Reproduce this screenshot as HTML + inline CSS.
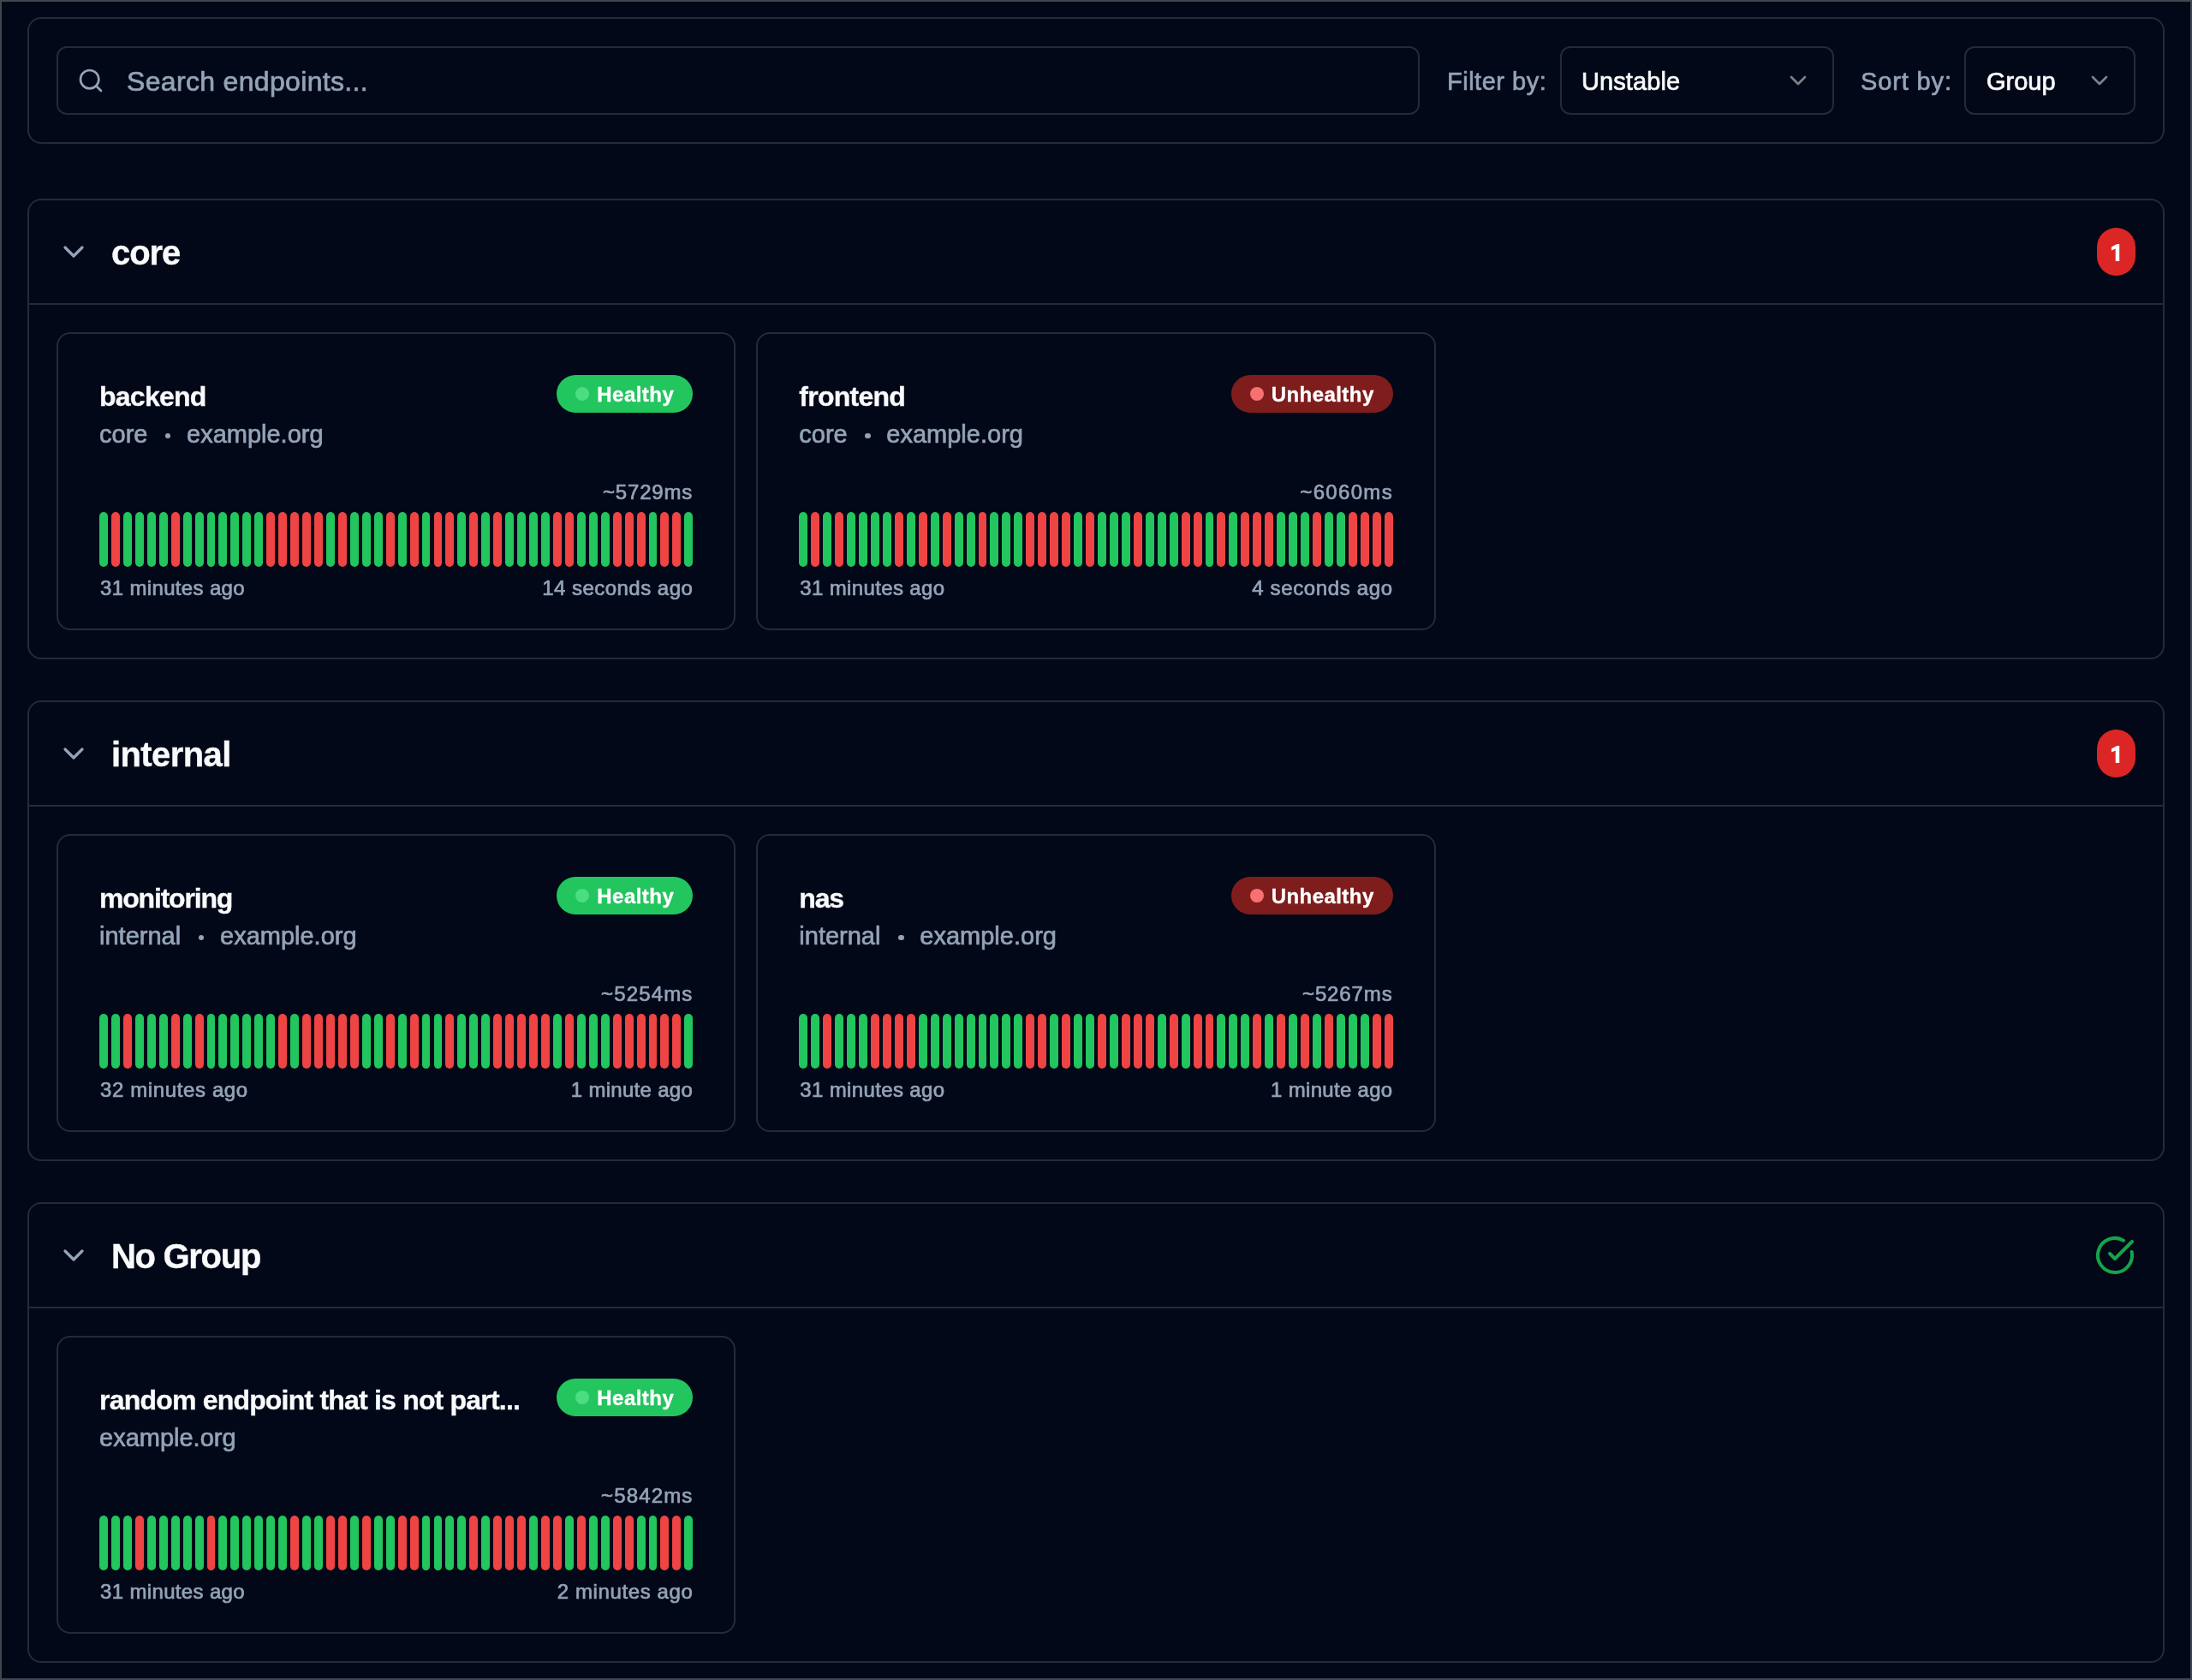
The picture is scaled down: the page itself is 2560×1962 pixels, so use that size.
<!DOCTYPE html>
<html><head><meta charset="utf-8"><title>Endpoints</title>
<style>
html,body{margin:0;padding:0;}
body{will-change:transform;width:2560px;height:1962px;position:relative;overflow:hidden;background:#020817;font-family:"Liberation Sans",sans-serif;}
.frame{position:absolute;left:0;top:0;width:2556px;height:1958px;border:2px solid #43464e;}
.t{position:absolute;white-space:nowrap;-webkit-text-stroke:0.7px currentColor;}
.tb{-webkit-text-stroke:0.35px currentColor;}
.b{position:absolute;box-sizing:border-box;}
.i{position:absolute;display:block;}
</style></head><body>
<div class="frame"></div>
<div class="b" style="left:32px;top:20px;width:2496px;height:148px;border-radius:16px;border:2px solid #242a3d;"></div>
<div class="b" style="left:66px;top:54px;width:1592px;height:80px;border-radius:12px;border:2px solid #242a3d;"></div>
<svg class="i" style="left:90px;top:78px" width="32" height="32" viewBox="0 0 24 24" fill="none" stroke="#94a3b8" stroke-width="2" stroke-linecap="round" stroke-linejoin="round"><circle cx="11" cy="11" r="8"/><path d="m21 21-4.34-4.34"/></svg>
<div class="t" style="left:148px;top:79px;font-size:32px;line-height:32px;font-weight:400;color:#94a3b8;letter-spacing:0.33px;">Search endpoints...</div>
<div class="t" style="left:1690px;top:81px;font-size:29px;line-height:29px;font-weight:400;color:#94a3b8;letter-spacing:0.5px;">Filter by:</div>
<div class="b" style="left:1822px;top:54px;width:320px;height:80px;border-radius:12px;border:2px solid #242a3d;"></div>
<div class="t" style="left:1847px;top:81px;font-size:29px;line-height:29px;font-weight:400;color:#f8fafc;letter-spacing:0.1px;">Unstable</div>
<svg class="i" style="left:2084px;top:78px" width="32" height="32" viewBox="0 0 24 24" fill="none" stroke="#7d818a" stroke-width="2" stroke-linecap="round" stroke-linejoin="round"><path d="m6 9 6 6 6-6"/></svg>
<div class="t" style="left:2173px;top:81px;font-size:29px;line-height:29px;font-weight:400;color:#94a3b8;letter-spacing:0.87px;">Sort by:</div>
<div class="b" style="left:2294px;top:54px;width:200px;height:80px;border-radius:12px;border:2px solid #242a3d;"></div>
<div class="t" style="left:2320px;top:81px;font-size:29px;line-height:29px;font-weight:400;color:#f8fafc;">Group</div>
<svg class="i" style="left:2436px;top:78px" width="32" height="32" viewBox="0 0 24 24" fill="none" stroke="#7d818a" stroke-width="2" stroke-linecap="round" stroke-linejoin="round"><path d="m6 9 6 6 6-6"/></svg>
<div class="b" style="left:32px;top:232px;width:2496px;height:538px;border-radius:16px;border:2px solid #242a3d;"></div>
<div class="b" style="left:34px;top:354px;width:2492px;height:2px;background:#242a3d"></div>
<svg class="i" style="left:66px;top:274px" width="40" height="40" viewBox="0 0 24 24" fill="none" stroke="#94a3b8" stroke-width="2" stroke-linecap="round" stroke-linejoin="round"><path d="m6 9 6 6 6-6"/></svg>
<div class="t tb" style="left:130px;top:275px;font-size:40px;line-height:40px;font-weight:700;color:#f8fafc;letter-spacing:-1.1px;">core</div>
<div class="b" style="left:2449px;top:266px;width:45px;height:56px;border-radius:23px;background:#dc2626"></div>
<svg class="i" style="left:2440px;top:232px" width="60" height="120" viewBox="2440 232 60 120"><polygon fill="#ffffff" points="2465.9,288.6 2472.4,285 2475.2,285 2475.2,305 2470.7,305 2470.7,290.5 2465.9,292.4"/></svg>
<div class="b" style="left:66.0px;top:388px;width:793.33px;height:348px;border-radius:16px;border:2px solid #242a3d;"></div>
<div class="t tb" style="left:116.0px;top:447px;font-size:32px;line-height:32px;font-weight:700;color:#f8fafc;letter-spacing:-0.75px;">backend</div>
<div class="t" style="left:116.0px;top:493px;font-size:29px;line-height:29px;font-weight:400;color:#94a3b8;">core</div>
<div class="b" style="left:192.75px;top:505.75px;width:6.5px;height:6.5px;border-radius:50%;background:#94a3b8"></div>
<div class="t" style="left:218.0px;top:493px;font-size:29px;line-height:29px;font-weight:400;color:#94a3b8;">example.org</div>
<div class="b" style="left:650.33px;top:438px;width:159px;height:44px;border-radius:22px;background:#22c55e"></div>
<div class="b" style="left:672.33px;top:452px;width:16px;height:16px;border-radius:8px;background:#4ade80"></div>
<div class="t tb" style="left:697.33px;top:449px;font-size:24px;line-height:24px;font-weight:700;color:#ffffff;letter-spacing:0.45px;">Healthy</div>
<div class="t" style="right:1750.85px;top:563px;font-size:24px;line-height:24px;font-weight:400;color:#94a3b8;letter-spacing:0.82px;">~5729ms</div>
<div class="b" style="left:116.00px;top:598px;width:9.95px;height:64px;border-radius:5px;background:#22c55e"></div>
<div class="b" style="left:129.95px;top:598px;width:9.95px;height:64px;border-radius:5px;background:#ef4444"></div>
<div class="b" style="left:143.89px;top:598px;width:9.95px;height:64px;border-radius:5px;background:#22c55e"></div>
<div class="b" style="left:157.84px;top:598px;width:9.95px;height:64px;border-radius:5px;background:#22c55e"></div>
<div class="b" style="left:171.79px;top:598px;width:9.95px;height:64px;border-radius:5px;background:#22c55e"></div>
<div class="b" style="left:185.73px;top:598px;width:9.95px;height:64px;border-radius:5px;background:#22c55e"></div>
<div class="b" style="left:199.68px;top:598px;width:9.95px;height:64px;border-radius:5px;background:#ef4444"></div>
<div class="b" style="left:213.63px;top:598px;width:9.95px;height:64px;border-radius:5px;background:#22c55e"></div>
<div class="b" style="left:227.57px;top:598px;width:9.95px;height:64px;border-radius:5px;background:#22c55e"></div>
<div class="b" style="left:241.52px;top:598px;width:9.95px;height:64px;border-radius:5px;background:#22c55e"></div>
<div class="b" style="left:255.47px;top:598px;width:9.95px;height:64px;border-radius:5px;background:#22c55e"></div>
<div class="b" style="left:269.41px;top:598px;width:9.95px;height:64px;border-radius:5px;background:#22c55e"></div>
<div class="b" style="left:283.36px;top:598px;width:9.95px;height:64px;border-radius:5px;background:#22c55e"></div>
<div class="b" style="left:297.31px;top:598px;width:9.95px;height:64px;border-radius:5px;background:#22c55e"></div>
<div class="b" style="left:311.25px;top:598px;width:9.95px;height:64px;border-radius:5px;background:#ef4444"></div>
<div class="b" style="left:325.20px;top:598px;width:9.95px;height:64px;border-radius:5px;background:#ef4444"></div>
<div class="b" style="left:339.15px;top:598px;width:9.95px;height:64px;border-radius:5px;background:#ef4444"></div>
<div class="b" style="left:353.09px;top:598px;width:9.95px;height:64px;border-radius:5px;background:#ef4444"></div>
<div class="b" style="left:367.04px;top:598px;width:9.95px;height:64px;border-radius:5px;background:#ef4444"></div>
<div class="b" style="left:380.99px;top:598px;width:9.95px;height:64px;border-radius:5px;background:#22c55e"></div>
<div class="b" style="left:394.93px;top:598px;width:9.95px;height:64px;border-radius:5px;background:#ef4444"></div>
<div class="b" style="left:408.88px;top:598px;width:9.95px;height:64px;border-radius:5px;background:#22c55e"></div>
<div class="b" style="left:422.83px;top:598px;width:9.95px;height:64px;border-radius:5px;background:#22c55e"></div>
<div class="b" style="left:436.77px;top:598px;width:9.95px;height:64px;border-radius:5px;background:#22c55e"></div>
<div class="b" style="left:450.72px;top:598px;width:9.95px;height:64px;border-radius:5px;background:#ef4444"></div>
<div class="b" style="left:464.67px;top:598px;width:9.95px;height:64px;border-radius:5px;background:#22c55e"></div>
<div class="b" style="left:478.61px;top:598px;width:9.95px;height:64px;border-radius:5px;background:#ef4444"></div>
<div class="b" style="left:492.56px;top:598px;width:9.95px;height:64px;border-radius:5px;background:#22c55e"></div>
<div class="b" style="left:506.50px;top:598px;width:9.95px;height:64px;border-radius:5px;background:#ef4444"></div>
<div class="b" style="left:520.45px;top:598px;width:9.95px;height:64px;border-radius:5px;background:#ef4444"></div>
<div class="b" style="left:534.40px;top:598px;width:9.95px;height:64px;border-radius:5px;background:#22c55e"></div>
<div class="b" style="left:548.34px;top:598px;width:9.95px;height:64px;border-radius:5px;background:#ef4444"></div>
<div class="b" style="left:562.29px;top:598px;width:9.95px;height:64px;border-radius:5px;background:#22c55e"></div>
<div class="b" style="left:576.24px;top:598px;width:9.95px;height:64px;border-radius:5px;background:#ef4444"></div>
<div class="b" style="left:590.18px;top:598px;width:9.95px;height:64px;border-radius:5px;background:#22c55e"></div>
<div class="b" style="left:604.13px;top:598px;width:9.95px;height:64px;border-radius:5px;background:#22c55e"></div>
<div class="b" style="left:618.08px;top:598px;width:9.95px;height:64px;border-radius:5px;background:#22c55e"></div>
<div class="b" style="left:632.02px;top:598px;width:9.95px;height:64px;border-radius:5px;background:#22c55e"></div>
<div class="b" style="left:645.97px;top:598px;width:9.95px;height:64px;border-radius:5px;background:#ef4444"></div>
<div class="b" style="left:659.92px;top:598px;width:9.95px;height:64px;border-radius:5px;background:#ef4444"></div>
<div class="b" style="left:673.86px;top:598px;width:9.95px;height:64px;border-radius:5px;background:#22c55e"></div>
<div class="b" style="left:687.81px;top:598px;width:9.95px;height:64px;border-radius:5px;background:#22c55e"></div>
<div class="b" style="left:701.76px;top:598px;width:9.95px;height:64px;border-radius:5px;background:#22c55e"></div>
<div class="b" style="left:715.70px;top:598px;width:9.95px;height:64px;border-radius:5px;background:#ef4444"></div>
<div class="b" style="left:729.65px;top:598px;width:9.95px;height:64px;border-radius:5px;background:#ef4444"></div>
<div class="b" style="left:743.60px;top:598px;width:9.95px;height:64px;border-radius:5px;background:#ef4444"></div>
<div class="b" style="left:757.54px;top:598px;width:9.95px;height:64px;border-radius:5px;background:#22c55e"></div>
<div class="b" style="left:771.49px;top:598px;width:9.95px;height:64px;border-radius:5px;background:#ef4444"></div>
<div class="b" style="left:785.44px;top:598px;width:9.95px;height:64px;border-radius:5px;background:#ef4444"></div>
<div class="b" style="left:799.38px;top:598px;width:9.95px;height:64px;border-radius:5px;background:#22c55e"></div>
<div class="t" style="left:117.0px;top:675px;font-size:24px;line-height:24px;font-weight:400;color:#94a3b8;letter-spacing:0.35px;">31 minutes ago</div>
<div class="t" style="right:1750.69px;top:675px;font-size:24px;line-height:24px;font-weight:400;color:#94a3b8;letter-spacing:0.48px;">14 seconds ago</div>
<div class="b" style="left:883.33px;top:388px;width:793.33px;height:348px;border-radius:16px;border:2px solid #242a3d;"></div>
<div class="t tb" style="left:933.33px;top:447px;font-size:32px;line-height:32px;font-weight:700;color:#f8fafc;letter-spacing:-0.75px;">frontend</div>
<div class="t" style="left:933.33px;top:493px;font-size:29px;line-height:29px;font-weight:400;color:#94a3b8;">core</div>
<div class="b" style="left:1010.08px;top:505.75px;width:6.5px;height:6.5px;border-radius:50%;background:#94a3b8"></div>
<div class="t" style="left:1035.33px;top:493px;font-size:29px;line-height:29px;font-weight:400;color:#94a3b8;">example.org</div>
<div class="b" style="left:1437.66px;top:438px;width:189px;height:44px;border-radius:22px;background:#7f1d1d"></div>
<div class="b" style="left:1459.66px;top:452px;width:16px;height:16px;border-radius:8px;background:#f87171"></div>
<div class="t tb" style="left:1484.66px;top:449px;font-size:24px;line-height:24px;font-weight:700;color:#ffffff;letter-spacing:0.45px;">Unhealthy</div>
<div class="t" style="right:933.02px;top:563px;font-size:24px;line-height:24px;font-weight:400;color:#94a3b8;letter-spacing:1.32px;">~6060ms</div>
<div class="b" style="left:933.33px;top:598px;width:9.95px;height:64px;border-radius:5px;background:#22c55e"></div>
<div class="b" style="left:947.28px;top:598px;width:9.95px;height:64px;border-radius:5px;background:#ef4444"></div>
<div class="b" style="left:961.22px;top:598px;width:9.95px;height:64px;border-radius:5px;background:#22c55e"></div>
<div class="b" style="left:975.17px;top:598px;width:9.95px;height:64px;border-radius:5px;background:#ef4444"></div>
<div class="b" style="left:989.12px;top:598px;width:9.95px;height:64px;border-radius:5px;background:#22c55e"></div>
<div class="b" style="left:1003.06px;top:598px;width:9.95px;height:64px;border-radius:5px;background:#22c55e"></div>
<div class="b" style="left:1017.01px;top:598px;width:9.95px;height:64px;border-radius:5px;background:#22c55e"></div>
<div class="b" style="left:1030.96px;top:598px;width:9.95px;height:64px;border-radius:5px;background:#22c55e"></div>
<div class="b" style="left:1044.90px;top:598px;width:9.95px;height:64px;border-radius:5px;background:#ef4444"></div>
<div class="b" style="left:1058.85px;top:598px;width:9.95px;height:64px;border-radius:5px;background:#22c55e"></div>
<div class="b" style="left:1072.80px;top:598px;width:9.95px;height:64px;border-radius:5px;background:#ef4444"></div>
<div class="b" style="left:1086.74px;top:598px;width:9.95px;height:64px;border-radius:5px;background:#22c55e"></div>
<div class="b" style="left:1100.69px;top:598px;width:9.95px;height:64px;border-radius:5px;background:#ef4444"></div>
<div class="b" style="left:1114.64px;top:598px;width:9.95px;height:64px;border-radius:5px;background:#22c55e"></div>
<div class="b" style="left:1128.58px;top:598px;width:9.95px;height:64px;border-radius:5px;background:#22c55e"></div>
<div class="b" style="left:1142.53px;top:598px;width:9.95px;height:64px;border-radius:5px;background:#ef4444"></div>
<div class="b" style="left:1156.48px;top:598px;width:9.95px;height:64px;border-radius:5px;background:#22c55e"></div>
<div class="b" style="left:1170.42px;top:598px;width:9.95px;height:64px;border-radius:5px;background:#22c55e"></div>
<div class="b" style="left:1184.37px;top:598px;width:9.95px;height:64px;border-radius:5px;background:#22c55e"></div>
<div class="b" style="left:1198.32px;top:598px;width:9.95px;height:64px;border-radius:5px;background:#ef4444"></div>
<div class="b" style="left:1212.26px;top:598px;width:9.95px;height:64px;border-radius:5px;background:#ef4444"></div>
<div class="b" style="left:1226.21px;top:598px;width:9.95px;height:64px;border-radius:5px;background:#ef4444"></div>
<div class="b" style="left:1240.16px;top:598px;width:9.95px;height:64px;border-radius:5px;background:#ef4444"></div>
<div class="b" style="left:1254.10px;top:598px;width:9.95px;height:64px;border-radius:5px;background:#22c55e"></div>
<div class="b" style="left:1268.05px;top:598px;width:9.95px;height:64px;border-radius:5px;background:#ef4444"></div>
<div class="b" style="left:1282.00px;top:598px;width:9.95px;height:64px;border-radius:5px;background:#22c55e"></div>
<div class="b" style="left:1295.94px;top:598px;width:9.95px;height:64px;border-radius:5px;background:#22c55e"></div>
<div class="b" style="left:1309.89px;top:598px;width:9.95px;height:64px;border-radius:5px;background:#22c55e"></div>
<div class="b" style="left:1323.83px;top:598px;width:9.95px;height:64px;border-radius:5px;background:#ef4444"></div>
<div class="b" style="left:1337.78px;top:598px;width:9.95px;height:64px;border-radius:5px;background:#22c55e"></div>
<div class="b" style="left:1351.73px;top:598px;width:9.95px;height:64px;border-radius:5px;background:#22c55e"></div>
<div class="b" style="left:1365.67px;top:598px;width:9.95px;height:64px;border-radius:5px;background:#22c55e"></div>
<div class="b" style="left:1379.62px;top:598px;width:9.95px;height:64px;border-radius:5px;background:#ef4444"></div>
<div class="b" style="left:1393.57px;top:598px;width:9.95px;height:64px;border-radius:5px;background:#ef4444"></div>
<div class="b" style="left:1407.51px;top:598px;width:9.95px;height:64px;border-radius:5px;background:#22c55e"></div>
<div class="b" style="left:1421.46px;top:598px;width:9.95px;height:64px;border-radius:5px;background:#ef4444"></div>
<div class="b" style="left:1435.41px;top:598px;width:9.95px;height:64px;border-radius:5px;background:#22c55e"></div>
<div class="b" style="left:1449.35px;top:598px;width:9.95px;height:64px;border-radius:5px;background:#ef4444"></div>
<div class="b" style="left:1463.30px;top:598px;width:9.95px;height:64px;border-radius:5px;background:#ef4444"></div>
<div class="b" style="left:1477.25px;top:598px;width:9.95px;height:64px;border-radius:5px;background:#ef4444"></div>
<div class="b" style="left:1491.19px;top:598px;width:9.95px;height:64px;border-radius:5px;background:#22c55e"></div>
<div class="b" style="left:1505.14px;top:598px;width:9.95px;height:64px;border-radius:5px;background:#22c55e"></div>
<div class="b" style="left:1519.09px;top:598px;width:9.95px;height:64px;border-radius:5px;background:#22c55e"></div>
<div class="b" style="left:1533.03px;top:598px;width:9.95px;height:64px;border-radius:5px;background:#ef4444"></div>
<div class="b" style="left:1546.98px;top:598px;width:9.95px;height:64px;border-radius:5px;background:#22c55e"></div>
<div class="b" style="left:1560.93px;top:598px;width:9.95px;height:64px;border-radius:5px;background:#22c55e"></div>
<div class="b" style="left:1574.87px;top:598px;width:9.95px;height:64px;border-radius:5px;background:#ef4444"></div>
<div class="b" style="left:1588.82px;top:598px;width:9.95px;height:64px;border-radius:5px;background:#ef4444"></div>
<div class="b" style="left:1602.77px;top:598px;width:9.95px;height:64px;border-radius:5px;background:#ef4444"></div>
<div class="b" style="left:1616.71px;top:598px;width:9.95px;height:64px;border-radius:5px;background:#ef4444"></div>
<div class="t" style="left:934.33px;top:675px;font-size:24px;line-height:24px;font-weight:400;color:#94a3b8;letter-spacing:0.35px;">31 minutes ago</div>
<div class="t" style="right:933.1899999999998px;top:675px;font-size:24px;line-height:24px;font-weight:400;color:#94a3b8;letter-spacing:0.65px;">4 seconds ago</div>
<div class="b" style="left:32px;top:818px;width:2496px;height:538px;border-radius:16px;border:2px solid #242a3d;"></div>
<div class="b" style="left:34px;top:940px;width:2492px;height:2px;background:#242a3d"></div>
<svg class="i" style="left:66px;top:860px" width="40" height="40" viewBox="0 0 24 24" fill="none" stroke="#94a3b8" stroke-width="2" stroke-linecap="round" stroke-linejoin="round"><path d="m6 9 6 6 6-6"/></svg>
<div class="t tb" style="left:130px;top:861px;font-size:40px;line-height:40px;font-weight:700;color:#f8fafc;letter-spacing:-0.6px;">internal</div>
<div class="b" style="left:2449px;top:852px;width:45px;height:56px;border-radius:23px;background:#dc2626"></div>
<svg class="i" style="left:2440px;top:818px" width="60" height="120" viewBox="2440 818 60 120"><polygon fill="#ffffff" points="2465.9,874.6 2472.4,871 2475.2,871 2475.2,891 2470.7,891 2470.7,876.5 2465.9,878.4"/></svg>
<div class="b" style="left:66.0px;top:974px;width:793.33px;height:348px;border-radius:16px;border:2px solid #242a3d;"></div>
<div class="t tb" style="left:116.0px;top:1033px;font-size:32px;line-height:32px;font-weight:700;color:#f8fafc;letter-spacing:-1.2px;">monitoring</div>
<div class="t" style="left:116.0px;top:1079px;font-size:29px;line-height:29px;font-weight:400;color:#94a3b8;">internal</div>
<div class="b" style="left:231.75px;top:1091.75px;width:6.5px;height:6.5px;border-radius:50%;background:#94a3b8"></div>
<div class="t" style="left:257.0px;top:1079px;font-size:29px;line-height:29px;font-weight:400;color:#94a3b8;">example.org</div>
<div class="b" style="left:650.33px;top:1024px;width:159px;height:44px;border-radius:22px;background:#22c55e"></div>
<div class="b" style="left:672.33px;top:1038px;width:16px;height:16px;border-radius:8px;background:#4ade80"></div>
<div class="t tb" style="left:697.33px;top:1035px;font-size:24px;line-height:24px;font-weight:700;color:#ffffff;letter-spacing:0.45px;">Healthy</div>
<div class="t" style="right:1750.52px;top:1149px;font-size:24px;line-height:24px;font-weight:400;color:#94a3b8;letter-spacing:1.15px;">~5254ms</div>
<div class="b" style="left:116.00px;top:1184px;width:9.95px;height:64px;border-radius:5px;background:#22c55e"></div>
<div class="b" style="left:129.95px;top:1184px;width:9.95px;height:64px;border-radius:5px;background:#22c55e"></div>
<div class="b" style="left:143.89px;top:1184px;width:9.95px;height:64px;border-radius:5px;background:#ef4444"></div>
<div class="b" style="left:157.84px;top:1184px;width:9.95px;height:64px;border-radius:5px;background:#22c55e"></div>
<div class="b" style="left:171.79px;top:1184px;width:9.95px;height:64px;border-radius:5px;background:#22c55e"></div>
<div class="b" style="left:185.73px;top:1184px;width:9.95px;height:64px;border-radius:5px;background:#22c55e"></div>
<div class="b" style="left:199.68px;top:1184px;width:9.95px;height:64px;border-radius:5px;background:#ef4444"></div>
<div class="b" style="left:213.63px;top:1184px;width:9.95px;height:64px;border-radius:5px;background:#22c55e"></div>
<div class="b" style="left:227.57px;top:1184px;width:9.95px;height:64px;border-radius:5px;background:#ef4444"></div>
<div class="b" style="left:241.52px;top:1184px;width:9.95px;height:64px;border-radius:5px;background:#22c55e"></div>
<div class="b" style="left:255.47px;top:1184px;width:9.95px;height:64px;border-radius:5px;background:#22c55e"></div>
<div class="b" style="left:269.41px;top:1184px;width:9.95px;height:64px;border-radius:5px;background:#22c55e"></div>
<div class="b" style="left:283.36px;top:1184px;width:9.95px;height:64px;border-radius:5px;background:#22c55e"></div>
<div class="b" style="left:297.31px;top:1184px;width:9.95px;height:64px;border-radius:5px;background:#22c55e"></div>
<div class="b" style="left:311.25px;top:1184px;width:9.95px;height:64px;border-radius:5px;background:#22c55e"></div>
<div class="b" style="left:325.20px;top:1184px;width:9.95px;height:64px;border-radius:5px;background:#ef4444"></div>
<div class="b" style="left:339.15px;top:1184px;width:9.95px;height:64px;border-radius:5px;background:#22c55e"></div>
<div class="b" style="left:353.09px;top:1184px;width:9.95px;height:64px;border-radius:5px;background:#ef4444"></div>
<div class="b" style="left:367.04px;top:1184px;width:9.95px;height:64px;border-radius:5px;background:#ef4444"></div>
<div class="b" style="left:380.99px;top:1184px;width:9.95px;height:64px;border-radius:5px;background:#ef4444"></div>
<div class="b" style="left:394.93px;top:1184px;width:9.95px;height:64px;border-radius:5px;background:#ef4444"></div>
<div class="b" style="left:408.88px;top:1184px;width:9.95px;height:64px;border-radius:5px;background:#ef4444"></div>
<div class="b" style="left:422.83px;top:1184px;width:9.95px;height:64px;border-radius:5px;background:#22c55e"></div>
<div class="b" style="left:436.77px;top:1184px;width:9.95px;height:64px;border-radius:5px;background:#22c55e"></div>
<div class="b" style="left:450.72px;top:1184px;width:9.95px;height:64px;border-radius:5px;background:#ef4444"></div>
<div class="b" style="left:464.67px;top:1184px;width:9.95px;height:64px;border-radius:5px;background:#22c55e"></div>
<div class="b" style="left:478.61px;top:1184px;width:9.95px;height:64px;border-radius:5px;background:#ef4444"></div>
<div class="b" style="left:492.56px;top:1184px;width:9.95px;height:64px;border-radius:5px;background:#22c55e"></div>
<div class="b" style="left:506.50px;top:1184px;width:9.95px;height:64px;border-radius:5px;background:#22c55e"></div>
<div class="b" style="left:520.45px;top:1184px;width:9.95px;height:64px;border-radius:5px;background:#ef4444"></div>
<div class="b" style="left:534.40px;top:1184px;width:9.95px;height:64px;border-radius:5px;background:#22c55e"></div>
<div class="b" style="left:548.34px;top:1184px;width:9.95px;height:64px;border-radius:5px;background:#22c55e"></div>
<div class="b" style="left:562.29px;top:1184px;width:9.95px;height:64px;border-radius:5px;background:#22c55e"></div>
<div class="b" style="left:576.24px;top:1184px;width:9.95px;height:64px;border-radius:5px;background:#ef4444"></div>
<div class="b" style="left:590.18px;top:1184px;width:9.95px;height:64px;border-radius:5px;background:#ef4444"></div>
<div class="b" style="left:604.13px;top:1184px;width:9.95px;height:64px;border-radius:5px;background:#ef4444"></div>
<div class="b" style="left:618.08px;top:1184px;width:9.95px;height:64px;border-radius:5px;background:#ef4444"></div>
<div class="b" style="left:632.02px;top:1184px;width:9.95px;height:64px;border-radius:5px;background:#ef4444"></div>
<div class="b" style="left:645.97px;top:1184px;width:9.95px;height:64px;border-radius:5px;background:#22c55e"></div>
<div class="b" style="left:659.92px;top:1184px;width:9.95px;height:64px;border-radius:5px;background:#ef4444"></div>
<div class="b" style="left:673.86px;top:1184px;width:9.95px;height:64px;border-radius:5px;background:#22c55e"></div>
<div class="b" style="left:687.81px;top:1184px;width:9.95px;height:64px;border-radius:5px;background:#22c55e"></div>
<div class="b" style="left:701.76px;top:1184px;width:9.95px;height:64px;border-radius:5px;background:#22c55e"></div>
<div class="b" style="left:715.70px;top:1184px;width:9.95px;height:64px;border-radius:5px;background:#ef4444"></div>
<div class="b" style="left:729.65px;top:1184px;width:9.95px;height:64px;border-radius:5px;background:#ef4444"></div>
<div class="b" style="left:743.60px;top:1184px;width:9.95px;height:64px;border-radius:5px;background:#ef4444"></div>
<div class="b" style="left:757.54px;top:1184px;width:9.95px;height:64px;border-radius:5px;background:#ef4444"></div>
<div class="b" style="left:771.49px;top:1184px;width:9.95px;height:64px;border-radius:5px;background:#ef4444"></div>
<div class="b" style="left:785.44px;top:1184px;width:9.95px;height:64px;border-radius:5px;background:#ef4444"></div>
<div class="b" style="left:799.38px;top:1184px;width:9.95px;height:64px;border-radius:5px;background:#22c55e"></div>
<div class="t" style="left:117.0px;top:1261px;font-size:24px;line-height:24px;font-weight:400;color:#94a3b8;letter-spacing:0.62px;">32 minutes ago</div>
<div class="t" style="right:1750.87px;top:1261px;font-size:24px;line-height:24px;font-weight:400;color:#94a3b8;letter-spacing:0.3px;">1 minute ago</div>
<div class="b" style="left:883.33px;top:974px;width:793.33px;height:348px;border-radius:16px;border:2px solid #242a3d;"></div>
<div class="t tb" style="left:933.33px;top:1033px;font-size:32px;line-height:32px;font-weight:700;color:#f8fafc;letter-spacing:-1.25px;">nas</div>
<div class="t" style="left:933.33px;top:1079px;font-size:29px;line-height:29px;font-weight:400;color:#94a3b8;">internal</div>
<div class="b" style="left:1049.08px;top:1091.75px;width:6.5px;height:6.5px;border-radius:50%;background:#94a3b8"></div>
<div class="t" style="left:1074.33px;top:1079px;font-size:29px;line-height:29px;font-weight:400;color:#94a3b8;">example.org</div>
<div class="b" style="left:1437.66px;top:1024px;width:189px;height:44px;border-radius:22px;background:#7f1d1d"></div>
<div class="b" style="left:1459.66px;top:1038px;width:16px;height:16px;border-radius:8px;background:#f87171"></div>
<div class="t tb" style="left:1484.66px;top:1035px;font-size:24px;line-height:24px;font-weight:700;color:#ffffff;letter-spacing:0.45px;">Unhealthy</div>
<div class="t" style="right:933.4599999999998px;top:1149px;font-size:24px;line-height:24px;font-weight:400;color:#94a3b8;letter-spacing:0.88px;">~5267ms</div>
<div class="b" style="left:933.33px;top:1184px;width:9.95px;height:64px;border-radius:5px;background:#22c55e"></div>
<div class="b" style="left:947.28px;top:1184px;width:9.95px;height:64px;border-radius:5px;background:#22c55e"></div>
<div class="b" style="left:961.22px;top:1184px;width:9.95px;height:64px;border-radius:5px;background:#ef4444"></div>
<div class="b" style="left:975.17px;top:1184px;width:9.95px;height:64px;border-radius:5px;background:#22c55e"></div>
<div class="b" style="left:989.12px;top:1184px;width:9.95px;height:64px;border-radius:5px;background:#22c55e"></div>
<div class="b" style="left:1003.06px;top:1184px;width:9.95px;height:64px;border-radius:5px;background:#22c55e"></div>
<div class="b" style="left:1017.01px;top:1184px;width:9.95px;height:64px;border-radius:5px;background:#ef4444"></div>
<div class="b" style="left:1030.96px;top:1184px;width:9.95px;height:64px;border-radius:5px;background:#ef4444"></div>
<div class="b" style="left:1044.90px;top:1184px;width:9.95px;height:64px;border-radius:5px;background:#ef4444"></div>
<div class="b" style="left:1058.85px;top:1184px;width:9.95px;height:64px;border-radius:5px;background:#ef4444"></div>
<div class="b" style="left:1072.80px;top:1184px;width:9.95px;height:64px;border-radius:5px;background:#22c55e"></div>
<div class="b" style="left:1086.74px;top:1184px;width:9.95px;height:64px;border-radius:5px;background:#22c55e"></div>
<div class="b" style="left:1100.69px;top:1184px;width:9.95px;height:64px;border-radius:5px;background:#22c55e"></div>
<div class="b" style="left:1114.64px;top:1184px;width:9.95px;height:64px;border-radius:5px;background:#22c55e"></div>
<div class="b" style="left:1128.58px;top:1184px;width:9.95px;height:64px;border-radius:5px;background:#22c55e"></div>
<div class="b" style="left:1142.53px;top:1184px;width:9.95px;height:64px;border-radius:5px;background:#22c55e"></div>
<div class="b" style="left:1156.48px;top:1184px;width:9.95px;height:64px;border-radius:5px;background:#22c55e"></div>
<div class="b" style="left:1170.42px;top:1184px;width:9.95px;height:64px;border-radius:5px;background:#22c55e"></div>
<div class="b" style="left:1184.37px;top:1184px;width:9.95px;height:64px;border-radius:5px;background:#22c55e"></div>
<div class="b" style="left:1198.32px;top:1184px;width:9.95px;height:64px;border-radius:5px;background:#ef4444"></div>
<div class="b" style="left:1212.26px;top:1184px;width:9.95px;height:64px;border-radius:5px;background:#ef4444"></div>
<div class="b" style="left:1226.21px;top:1184px;width:9.95px;height:64px;border-radius:5px;background:#22c55e"></div>
<div class="b" style="left:1240.16px;top:1184px;width:9.95px;height:64px;border-radius:5px;background:#ef4444"></div>
<div class="b" style="left:1254.10px;top:1184px;width:9.95px;height:64px;border-radius:5px;background:#22c55e"></div>
<div class="b" style="left:1268.05px;top:1184px;width:9.95px;height:64px;border-radius:5px;background:#22c55e"></div>
<div class="b" style="left:1282.00px;top:1184px;width:9.95px;height:64px;border-radius:5px;background:#ef4444"></div>
<div class="b" style="left:1295.94px;top:1184px;width:9.95px;height:64px;border-radius:5px;background:#22c55e"></div>
<div class="b" style="left:1309.89px;top:1184px;width:9.95px;height:64px;border-radius:5px;background:#ef4444"></div>
<div class="b" style="left:1323.83px;top:1184px;width:9.95px;height:64px;border-radius:5px;background:#ef4444"></div>
<div class="b" style="left:1337.78px;top:1184px;width:9.95px;height:64px;border-radius:5px;background:#ef4444"></div>
<div class="b" style="left:1351.73px;top:1184px;width:9.95px;height:64px;border-radius:5px;background:#22c55e"></div>
<div class="b" style="left:1365.67px;top:1184px;width:9.95px;height:64px;border-radius:5px;background:#ef4444"></div>
<div class="b" style="left:1379.62px;top:1184px;width:9.95px;height:64px;border-radius:5px;background:#22c55e"></div>
<div class="b" style="left:1393.57px;top:1184px;width:9.95px;height:64px;border-radius:5px;background:#ef4444"></div>
<div class="b" style="left:1407.51px;top:1184px;width:9.95px;height:64px;border-radius:5px;background:#ef4444"></div>
<div class="b" style="left:1421.46px;top:1184px;width:9.95px;height:64px;border-radius:5px;background:#22c55e"></div>
<div class="b" style="left:1435.41px;top:1184px;width:9.95px;height:64px;border-radius:5px;background:#22c55e"></div>
<div class="b" style="left:1449.35px;top:1184px;width:9.95px;height:64px;border-radius:5px;background:#22c55e"></div>
<div class="b" style="left:1463.30px;top:1184px;width:9.95px;height:64px;border-radius:5px;background:#ef4444"></div>
<div class="b" style="left:1477.25px;top:1184px;width:9.95px;height:64px;border-radius:5px;background:#22c55e"></div>
<div class="b" style="left:1491.19px;top:1184px;width:9.95px;height:64px;border-radius:5px;background:#ef4444"></div>
<div class="b" style="left:1505.14px;top:1184px;width:9.95px;height:64px;border-radius:5px;background:#22c55e"></div>
<div class="b" style="left:1519.09px;top:1184px;width:9.95px;height:64px;border-radius:5px;background:#ef4444"></div>
<div class="b" style="left:1533.03px;top:1184px;width:9.95px;height:64px;border-radius:5px;background:#22c55e"></div>
<div class="b" style="left:1546.98px;top:1184px;width:9.95px;height:64px;border-radius:5px;background:#ef4444"></div>
<div class="b" style="left:1560.93px;top:1184px;width:9.95px;height:64px;border-radius:5px;background:#22c55e"></div>
<div class="b" style="left:1574.87px;top:1184px;width:9.95px;height:64px;border-radius:5px;background:#22c55e"></div>
<div class="b" style="left:1588.82px;top:1184px;width:9.95px;height:64px;border-radius:5px;background:#22c55e"></div>
<div class="b" style="left:1602.77px;top:1184px;width:9.95px;height:64px;border-radius:5px;background:#ef4444"></div>
<div class="b" style="left:1616.71px;top:1184px;width:9.95px;height:64px;border-radius:5px;background:#ef4444"></div>
<div class="t" style="left:934.33px;top:1261px;font-size:24px;line-height:24px;font-weight:400;color:#94a3b8;letter-spacing:0.35px;">31 minutes ago</div>
<div class="t" style="right:933.54px;top:1261px;font-size:24px;line-height:24px;font-weight:400;color:#94a3b8;letter-spacing:0.3px;">1 minute ago</div>
<div class="b" style="left:32px;top:1404px;width:2496px;height:538px;border-radius:16px;border:2px solid #242a3d;"></div>
<div class="b" style="left:34px;top:1526px;width:2492px;height:2px;background:#242a3d"></div>
<svg class="i" style="left:66px;top:1446px" width="40" height="40" viewBox="0 0 24 24" fill="none" stroke="#94a3b8" stroke-width="2" stroke-linecap="round" stroke-linejoin="round"><path d="m6 9 6 6 6-6"/></svg>
<div class="t tb" style="left:130px;top:1447px;font-size:40px;line-height:40px;font-weight:700;color:#f8fafc;letter-spacing:-1.3px;">No Group</div>
<svg class="i" style="left:2446px;top:1442px" width="48" height="48" viewBox="0 0 24 24" fill="none" stroke="#16a34a" stroke-width="2" stroke-linecap="round" stroke-linejoin="round"><path d="M21.801 10A10 10 0 1 1 17 3.335"/><path d="m9 11 3 3L22 4"/></svg>
<div class="b" style="left:66.0px;top:1560px;width:793.33px;height:348px;border-radius:16px;border:2px solid #242a3d;"></div>
<div class="t tb" style="left:116.0px;top:1619px;font-size:32px;line-height:32px;font-weight:700;color:#f8fafc;letter-spacing:-0.8px;">random endpoint that is not part...</div>
<div class="t" style="left:116.0px;top:1665px;font-size:29px;line-height:29px;font-weight:400;color:#94a3b8;">example.org</div>
<div class="b" style="left:650.33px;top:1610px;width:159px;height:44px;border-radius:22px;background:#22c55e"></div>
<div class="b" style="left:672.33px;top:1624px;width:16px;height:16px;border-radius:8px;background:#4ade80"></div>
<div class="t tb" style="left:697.33px;top:1621px;font-size:24px;line-height:24px;font-weight:700;color:#ffffff;letter-spacing:0.45px;">Healthy</div>
<div class="t" style="right:1750.52px;top:1735px;font-size:24px;line-height:24px;font-weight:400;color:#94a3b8;letter-spacing:1.15px;">~5842ms</div>
<div class="b" style="left:116.00px;top:1770px;width:9.95px;height:64px;border-radius:5px;background:#22c55e"></div>
<div class="b" style="left:129.95px;top:1770px;width:9.95px;height:64px;border-radius:5px;background:#22c55e"></div>
<div class="b" style="left:143.89px;top:1770px;width:9.95px;height:64px;border-radius:5px;background:#22c55e"></div>
<div class="b" style="left:157.84px;top:1770px;width:9.95px;height:64px;border-radius:5px;background:#ef4444"></div>
<div class="b" style="left:171.79px;top:1770px;width:9.95px;height:64px;border-radius:5px;background:#22c55e"></div>
<div class="b" style="left:185.73px;top:1770px;width:9.95px;height:64px;border-radius:5px;background:#22c55e"></div>
<div class="b" style="left:199.68px;top:1770px;width:9.95px;height:64px;border-radius:5px;background:#22c55e"></div>
<div class="b" style="left:213.63px;top:1770px;width:9.95px;height:64px;border-radius:5px;background:#22c55e"></div>
<div class="b" style="left:227.57px;top:1770px;width:9.95px;height:64px;border-radius:5px;background:#22c55e"></div>
<div class="b" style="left:241.52px;top:1770px;width:9.95px;height:64px;border-radius:5px;background:#ef4444"></div>
<div class="b" style="left:255.47px;top:1770px;width:9.95px;height:64px;border-radius:5px;background:#22c55e"></div>
<div class="b" style="left:269.41px;top:1770px;width:9.95px;height:64px;border-radius:5px;background:#22c55e"></div>
<div class="b" style="left:283.36px;top:1770px;width:9.95px;height:64px;border-radius:5px;background:#22c55e"></div>
<div class="b" style="left:297.31px;top:1770px;width:9.95px;height:64px;border-radius:5px;background:#22c55e"></div>
<div class="b" style="left:311.25px;top:1770px;width:9.95px;height:64px;border-radius:5px;background:#22c55e"></div>
<div class="b" style="left:325.20px;top:1770px;width:9.95px;height:64px;border-radius:5px;background:#22c55e"></div>
<div class="b" style="left:339.15px;top:1770px;width:9.95px;height:64px;border-radius:5px;background:#ef4444"></div>
<div class="b" style="left:353.09px;top:1770px;width:9.95px;height:64px;border-radius:5px;background:#22c55e"></div>
<div class="b" style="left:367.04px;top:1770px;width:9.95px;height:64px;border-radius:5px;background:#22c55e"></div>
<div class="b" style="left:380.99px;top:1770px;width:9.95px;height:64px;border-radius:5px;background:#ef4444"></div>
<div class="b" style="left:394.93px;top:1770px;width:9.95px;height:64px;border-radius:5px;background:#ef4444"></div>
<div class="b" style="left:408.88px;top:1770px;width:9.95px;height:64px;border-radius:5px;background:#22c55e"></div>
<div class="b" style="left:422.83px;top:1770px;width:9.95px;height:64px;border-radius:5px;background:#ef4444"></div>
<div class="b" style="left:436.77px;top:1770px;width:9.95px;height:64px;border-radius:5px;background:#22c55e"></div>
<div class="b" style="left:450.72px;top:1770px;width:9.95px;height:64px;border-radius:5px;background:#22c55e"></div>
<div class="b" style="left:464.67px;top:1770px;width:9.95px;height:64px;border-radius:5px;background:#ef4444"></div>
<div class="b" style="left:478.61px;top:1770px;width:9.95px;height:64px;border-radius:5px;background:#ef4444"></div>
<div class="b" style="left:492.56px;top:1770px;width:9.95px;height:64px;border-radius:5px;background:#22c55e"></div>
<div class="b" style="left:506.50px;top:1770px;width:9.95px;height:64px;border-radius:5px;background:#22c55e"></div>
<div class="b" style="left:520.45px;top:1770px;width:9.95px;height:64px;border-radius:5px;background:#22c55e"></div>
<div class="b" style="left:534.40px;top:1770px;width:9.95px;height:64px;border-radius:5px;background:#22c55e"></div>
<div class="b" style="left:548.34px;top:1770px;width:9.95px;height:64px;border-radius:5px;background:#ef4444"></div>
<div class="b" style="left:562.29px;top:1770px;width:9.95px;height:64px;border-radius:5px;background:#22c55e"></div>
<div class="b" style="left:576.24px;top:1770px;width:9.95px;height:64px;border-radius:5px;background:#ef4444"></div>
<div class="b" style="left:590.18px;top:1770px;width:9.95px;height:64px;border-radius:5px;background:#ef4444"></div>
<div class="b" style="left:604.13px;top:1770px;width:9.95px;height:64px;border-radius:5px;background:#ef4444"></div>
<div class="b" style="left:618.08px;top:1770px;width:9.95px;height:64px;border-radius:5px;background:#22c55e"></div>
<div class="b" style="left:632.02px;top:1770px;width:9.95px;height:64px;border-radius:5px;background:#ef4444"></div>
<div class="b" style="left:645.97px;top:1770px;width:9.95px;height:64px;border-radius:5px;background:#ef4444"></div>
<div class="b" style="left:659.92px;top:1770px;width:9.95px;height:64px;border-radius:5px;background:#22c55e"></div>
<div class="b" style="left:673.86px;top:1770px;width:9.95px;height:64px;border-radius:5px;background:#ef4444"></div>
<div class="b" style="left:687.81px;top:1770px;width:9.95px;height:64px;border-radius:5px;background:#22c55e"></div>
<div class="b" style="left:701.76px;top:1770px;width:9.95px;height:64px;border-radius:5px;background:#22c55e"></div>
<div class="b" style="left:715.70px;top:1770px;width:9.95px;height:64px;border-radius:5px;background:#ef4444"></div>
<div class="b" style="left:729.65px;top:1770px;width:9.95px;height:64px;border-radius:5px;background:#ef4444"></div>
<div class="b" style="left:743.60px;top:1770px;width:9.95px;height:64px;border-radius:5px;background:#22c55e"></div>
<div class="b" style="left:757.54px;top:1770px;width:9.95px;height:64px;border-radius:5px;background:#22c55e"></div>
<div class="b" style="left:771.49px;top:1770px;width:9.95px;height:64px;border-radius:5px;background:#ef4444"></div>
<div class="b" style="left:785.44px;top:1770px;width:9.95px;height:64px;border-radius:5px;background:#ef4444"></div>
<div class="b" style="left:799.38px;top:1770px;width:9.95px;height:64px;border-radius:5px;background:#22c55e"></div>
<div class="t" style="left:117.0px;top:1847px;font-size:24px;line-height:24px;font-weight:400;color:#94a3b8;letter-spacing:0.35px;">31 minutes ago</div>
<div class="t" style="right:1750.56px;top:1847px;font-size:24px;line-height:24px;font-weight:400;color:#94a3b8;letter-spacing:0.61px;">2 minutes ago</div>
</body></html>
